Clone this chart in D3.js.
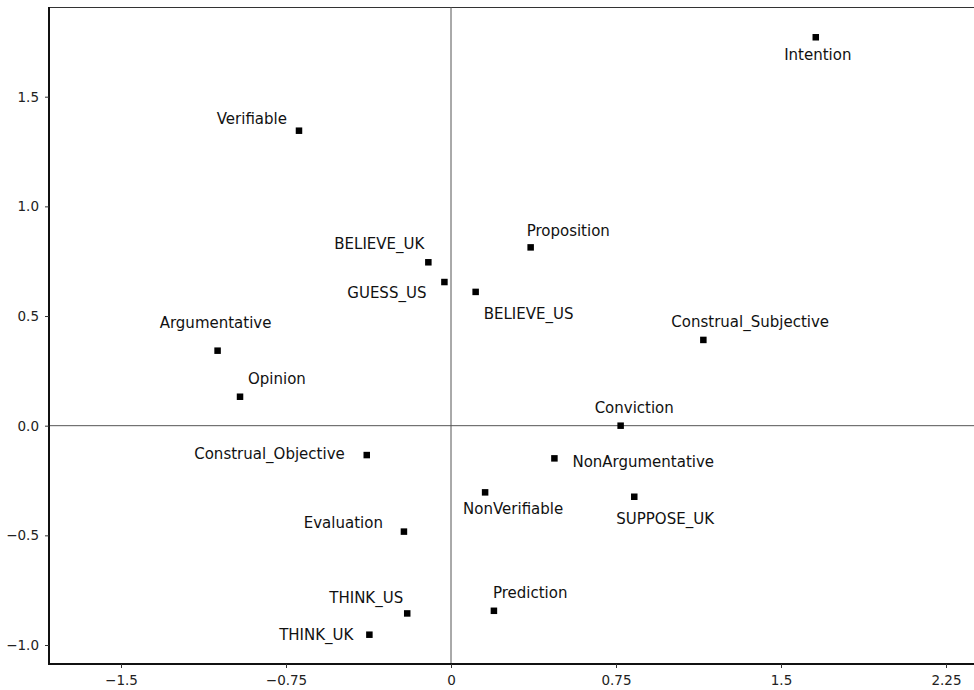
<!DOCTYPE html>
<html>
<head>
<meta charset="utf-8">
<script src="https://cdn.jsdelivr.net/npm/d3@7"></script>
<style>
  html, body { margin: 0; padding: 0; background: #fff; }
  svg { display: block; font-family: "DejaVu Sans", sans-serif; }
</style>
</head>
<body>
<svg id="chart" width="974" height="690"></svg>
<script>
// Correspondence-analysis map: verbs and annotation categories on two dimensions
const names = [
  "Intention", "Verifiable", "Proposition", "BELIEVE_UK", "GUESS_US", "BELIEVE_US",
  "Argumentative", "Opinion", "Construal_Subjective", "Conviction", "Construal_Objective",
  "NonArgumentative", "NonVerifiable", "SUPPOSE_UK", "Evaluation", "THINK_US",
  "Prediction", "THINK_UK"
];
const dim1 = [
  1.658, -0.691, 0.362, -0.103, -0.030, 0.112,
  -1.061, -0.959, 1.147, 0.771, -0.383,
  0.470, 0.155, 0.833, -0.214, -0.199,
  0.195, -0.371
];
const dim2 = [
  1.771, 1.345, 0.813, 0.745, 0.655, 0.610,
  0.342, 0.132, 0.391, 0.000, -0.134,
  -0.149, -0.304, -0.324, -0.483, -0.856,
  -0.844, -0.953
];
const xTicks = [-1.5, -0.75, 0, 0.75, 1.5, 2.25];
const xTickLabels = ["\u22121.5", "\u22120.75", "0", "0.75", "1.5", "2.25"];
const yTicks = [-1.0, -0.5, 0.0, 0.5, 1.0, 1.5];
const yTickLabels = ["\u22121.0", "\u22120.5", "0.0", "0.5", "1.0", "1.5"];

// label placement beside each point: [anchor, dx, dy]
const labelPlacement = {
  "Intention": ["middle", 2, 23],
  "Verifiable": ["end", -12, -7],
  "Proposition": ["start", -4, -11],
  "BELIEVE_UK": ["end", -4, -13],
  "GUESS_US": ["end", -18, 16],
  "BELIEVE_US": ["start", 8, 27],
  "Argumentative": ["middle", -2, -23],
  "Opinion": ["start", 8, -13],
  "Construal_Subjective": ["start", -32, -13],
  "Conviction": ["start", -26, -13],
  "Construal_Objective": ["end", -22, 4],
  "NonArgumentative": ["start", 18, 9],
  "NonVerifiable": ["start", -22, 22],
  "SUPPOSE_UK": ["start", -18, 27],
  "Evaluation": ["end", -21, -4],
  "THINK_US": ["end", -4, -10],
  "Prediction": ["start", -1, -13],
  "THINK_UK": ["end", -16, 5]
};

const points = names.map((n, i) => ({ name: n, x: dim1[i], y: dim2[i] }));

const svg = d3.select("#chart");
const plotLeft = 49, plotRight = 978, plotTop = 7, plotBottom = 664;

const x = d3.scaleLinear().domain([-1.8273, 2.3954]).range([plotLeft, plotRight]);
const y = d3.scaleLinear().domain([-1.0866, 1.909]).range([plotBottom, plotTop]);

// top frame line
svg.append("line")
  .attr("x1", plotLeft).attr("x2", 974).attr("y1", plotTop + 0.5).attr("y2", plotTop + 0.5)
  .attr("stroke", "#333").attr("stroke-width", 1);

// zero reference lines
svg.append("line")
  .attr("x1", plotLeft).attr("x2", 974).attr("y1", y(0)).attr("y2", y(0))
  .attr("stroke", "#555").attr("stroke-width", 1);
svg.append("line")
  .attr("x1", x(0)).attr("x2", x(0)).attr("y1", plotTop).attr("y2", plotBottom)
  .attr("stroke", "#555").attr("stroke-width", 1);

// axes
const xAxis = d3.axisBottom(x).tickValues(xTicks)
  .tickFormat((d, i) => xTickLabels[i]).tickSizeInner(4).tickSizeOuter(0).tickPadding(7);
const yAxis = d3.axisLeft(y).tickValues(yTicks)
  .tickFormat((d, i) => yTickLabels[i]).tickSizeInner(4).tickSizeOuter(0).tickPadding(6);

const gx = svg.append("g").attr("transform", `translate(0,${plotBottom})`).call(xAxis);
const gy = svg.append("g").attr("transform", `translate(${plotLeft},0)`).call(yAxis);

[gx, gy].forEach(g => {
  g.select(".domain").attr("stroke", "#111").attr("stroke-width", 2);
  g.selectAll(".tick line").attr("stroke", "#333").attr("stroke-width", 1);
  g.selectAll(".tick text").attr("fill", "#222")
    .style("font-family", "'DejaVu Sans', sans-serif").style("font-size", "13.5px");
});
gx.select(".domain").attr("d", `M${plotLeft},0H974`);
gy.select(".domain").attr("d", `M0,${plotTop}V${plotBottom + 1}`);

// point markers
const s = 6.5;
svg.append("g").selectAll("rect")
  .data(points).join("rect")
  .attr("x", d => x(d.x) - s / 2)
  .attr("y", d => y(d.y) - s / 2)
  .attr("width", s).attr("height", s)
  .attr("fill", "#000");

// point labels
svg.append("g").selectAll("text")
  .data(points).join("text")
  .attr("x", d => x(d.x) + labelPlacement[d.name][1])
  .attr("y", d => y(d.y) + labelPlacement[d.name][2])
  .attr("text-anchor", d => labelPlacement[d.name][0])
  .attr("fill", "#111")
  .style("font-size", "15px")
  .text(d => d.name);
</script>
</body>
</html>
